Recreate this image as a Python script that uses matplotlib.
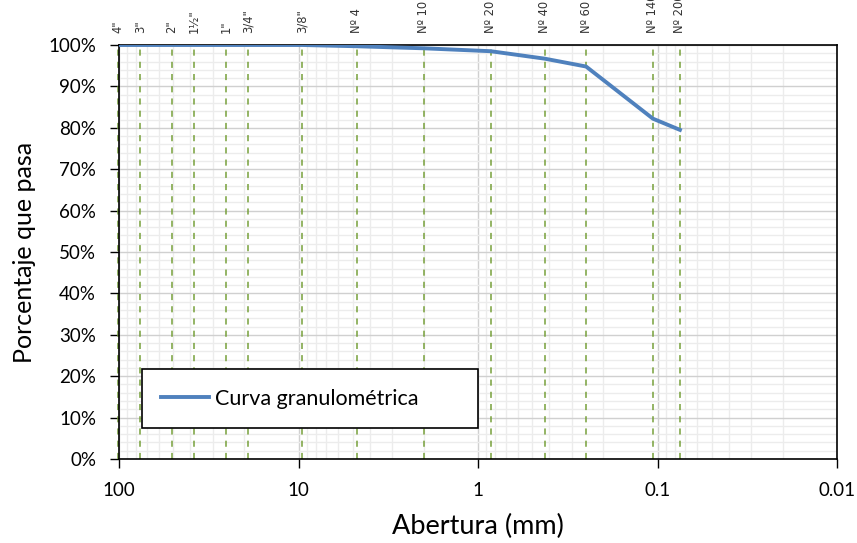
import matplotlib
matplotlib.use("Agg")
import matplotlib.pyplot as plt
from matplotlib.ticker import FuncFormatter, MultipleLocator, LogLocator

plt.rcParams['font.family'] = ['Lato', 'DejaVu Sans']

# Sieve data
sieve_labels = ['4"', '3"', '2"', '1½"', '1"', '3/4"', '3/8"', 'Nº 4', 'Nº 10', 'Nº 20', 'Nº 40', 'Nº 60', 'Nº 140', 'Nº 200']
sieve_mm = [101.6, 76.2, 50.8, 38.1, 25.4, 19.05, 9.525, 4.75, 2.0, 0.85, 0.425, 0.25, 0.106, 0.075]
percent_passing = [100.0, 100.0, 100.0, 100.0, 100.0, 100.0, 100.0, 99.7, 99.2, 98.5, 96.7, 94.8, 82.2, 79.5]
series_name = 'Curva granulométrica'

W, H = 857, 543
fig = plt.figure(figsize=(W / 100, H / 100), dpi=100)
ax = fig.add_axes([119 / W, (H - 459) / H, (837 - 119) / W, (459 - 45) / H])

ax.set_xscale('log')
ax.set_xlim(100, 0.01)
ax.set_ylim(0, 100)

# grids
ax.xaxis.set_minor_locator(LogLocator(base=10, subs=range(2, 10)))
ax.yaxis.set_major_locator(MultipleLocator(10))
ax.yaxis.set_minor_locator(MultipleLocator(2))
ax.grid(which='major', color='#d0d0d0', linewidth=1.0, zorder=0)
ax.grid(which='minor', color='#ececec', linewidth=1.0, zorder=0)
ax.set_axisbelow(True)

# sieve lines
for s, lab in zip(sieve_mm, sieve_labels):
    ax.axvline(s, color='#77a03a', linestyle=(0, (4, 4)), linewidth=1.1, zorder=2, clip_on=False)
    ax.text(s, 1.03, lab, rotation=90, ha='center', va='bottom', fontsize=8.3,
            color='#333333', transform=ax.get_xaxis_transform(), family=['DejaVu Sans'])

ax.plot(sieve_mm, percent_passing, color='#4f81bd', linewidth=2.8, label=series_name, zorder=3)

ax.xaxis.set_major_formatter(FuncFormatter(lambda v, p: ('%g' % v)))
ax.xaxis.set_minor_formatter(FuncFormatter(lambda v, p: ''))
ax.yaxis.set_major_formatter(FuncFormatter(lambda v, p: '%d%%' % v))

ax.tick_params(axis='both', which='major', labelsize=13.5, direction='out', length=6.5, width=1,
               color='black', labelcolor='black')
ax.tick_params(axis='x', which='major', pad=10)
ax.tick_params(axis='y', which='major', pad=10)
ax.tick_params(axis='both', which='minor', length=0)

for sp in ax.spines.values():
    sp.set_color('black')
    sp.set_linewidth(1.2)

ax.set_xlabel('Abertura (mm)', fontsize=19.5, labelpad=11)
ax.set_ylabel('Porcentaje que pasa', fontsize=18, labelpad=9)

leg = ax.legend(loc='lower left', bbox_to_anchor=(0.032, 0.075, 0.468, 0.16), mode='expand',
                fontsize=15.5, frameon=True, fancybox=False, handlelength=2.2, handletextpad=0.3,
                borderpad=0.9, borderaxespad=0)
leg.get_frame().set_edgecolor('black')
leg.get_frame().set_linewidth(1.2)
leg.get_frame().set_alpha(1)

fig.savefig('out.png', dpi=100)
